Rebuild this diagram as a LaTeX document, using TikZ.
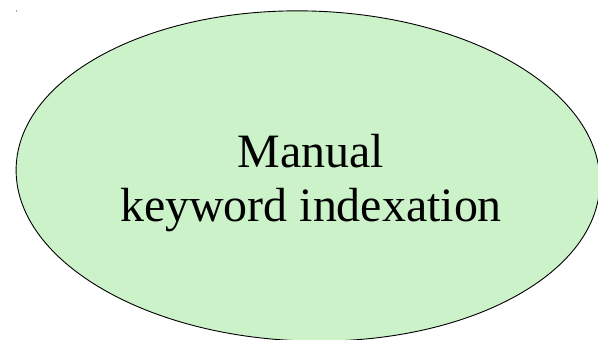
\documentclass[tikz,border=0pt]{standalone}
\usepackage{fontspec}
\setmainfont{Liberation Serif}
\usetikzlibrary{shapes.geometric}
\definecolor{blobfill}{RGB}{204,242,201}
\tikzset{
  x=1pt, y=1pt,
  blob/.style={ellipse, draw=black, line width=0.9pt, fill=blobfill,
    inner sep=0pt, outer sep=0pt},
  blobtext/.style={align=center, inner sep=0pt, text=black,
    font=\fontsize{47.9}{54}\selectfont}
}
\begin{document}
\begin{tikzpicture}
  \useasboundingbox (0,0) rectangle (598,340);
  \clip (0,0) rectangle (598,340);
  \fill[white] (0,0) rectangle (598,340);
  % small corner mark
  \fill[black!70] (16.5,329) circle (0.7);
  % the ellipse, tilted slightly clockwise
  \node[blob, minimum width=584pt, minimum height=330pt, rotate=-1.7]
    (blob) at (308,164) {};
  \node[blobtext] (label) at (311,157) {Manual\\keyword indexation};
\end{tikzpicture}
\end{document}
